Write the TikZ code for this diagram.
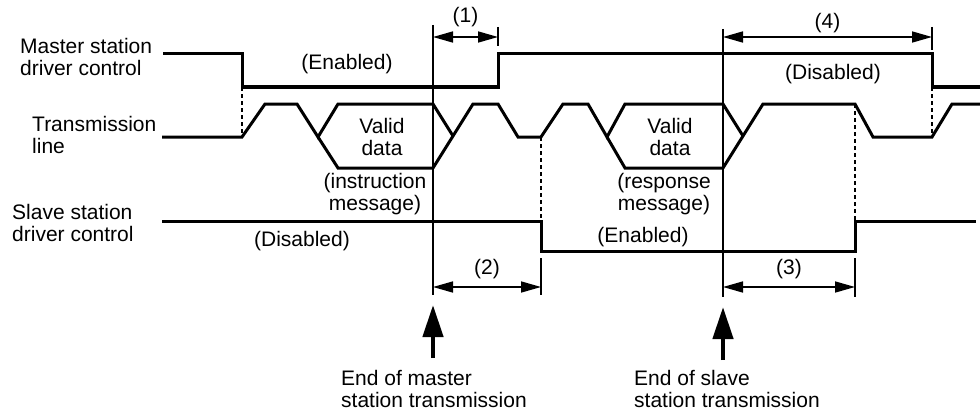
\documentclass[tikz,border=0pt]{standalone}
\usepackage{fontspec}
\setmainfont{Liberation Sans}
\usetikzlibrary{arrows.meta}

\begin{document}
\begin{tikzpicture}[x=1pt, y=-1pt,
    sig/.style={line width=3pt},
    guide/.style={line width=1.8pt},
    tickline/.style={line width=1.4pt},
    dotline/.style={line width=1.8pt, dash pattern=on 4pt off 3pt},
    dim/.style={line width=1.6pt, {Triangle[length=20pt,width=11pt]}-{Triangle[length=20pt,width=11pt]}},
    bigarrow/.style={line width=4.5pt, -{Triangle[length=32pt,width=20pt]}},
    lbl/.style={inner sep=0pt, font=\fontsize{21}{22.5}\selectfont},
    mid/.style={lbl, align=center},
    side/.style={lbl, align=left, anchor=west}
  ]
  \useasboundingbox (0,0) rectangle (980,412);

  % signal names
  \node[side] (master) at (20,57) {Master station\\driver control};
  \node[side] (line)   at (32,135) {Transmission\\line};
  \node[side] (slave)  at (12,223) {Slave station\\driver control};

  % time marks
  \coordinate (mTop) at (433,25);  \coordinate (mBot) at (433,295);
  \coordinate (sTop) at (723,29);  \coordinate (sBot) at (723,297);
  \coordinate (t1a) at (498,27);   \coordinate (t1b) at (498,46);
  \coordinate (t4a) at (932,27);   \coordinate (t4b) at (932,50);
  \coordinate (t2a) at (541,258);  \coordinate (t2b) at (541,295);
  \coordinate (t3a) at (855,258);  \coordinate (t3b) at (855,297);

  % master station driver
  \draw[sig] (163,54) -- (242,54) -- (242,87) -- (498,87) -- (498,54)
    -- (932,54) -- (932,87) -- (980,87);
  % transmission line
  \draw[sig] (162,137) -- (242,137) -- (265,104) -- (297,104) -- (318,137)
    -- (338,104) -- (433,104) -- (453,136);
  \draw[sig] (318,137) -- (338,168) -- (433,168) -- (473,104) -- (498,104)
    -- (518,137) -- (541,137) -- (563,104) -- (588,104) -- (607,137)
    -- (625,104) -- (723,104) -- (743,136);
  \draw[sig] (607,137) -- (625,168) -- (723,168) -- (763,104) -- (855,104)
    -- (873,137) -- (932,137) -- (952,104) -- (980,104);
  % slave station driver
  \draw[sig] (162,221) -- (541,221) -- (541,251) -- (855,251) -- (855,221)
    -- (976,221);

  \draw[dotline] (242,87) -- (242,137);
  \draw[dotline] (932,87) -- (932,137);
  \draw[dotline] (541,137) -- (541,221);
  \draw[dotline] (855,104) -- (855,221);

  \draw[guide] (mTop) -- (mBot);
  \draw[guide] (sTop) -- (sBot);
  \foreach \a/\b in {t1a/t1b, t4a/t4b, t2a/t2b, t3a/t3b}
    \draw[tickline] (\a) -- (\b);

  % intervals
  \draw[dim] (433,37) -- node[lbl, above=9pt] (d1) {(1)} (498,37);
  \draw[dim] (723,37) -- node[lbl, above=3pt] (d4) {(4)} (932,37);
  \draw[dim] (433,287) -- node[lbl, above=7pt] (d2) {(2)} (541,287);
  \draw[dim] (723,287) -- node[lbl, above=7pt] (d3) {(3)} (855,287);

  % states
  \node[lbl, anchor=base] (menab) at (347,70) {(Enabled)};
  \node[lbl, anchor=base] (mdis)  at (833,80) {(Disabled)};
  \node[lbl, anchor=base] (sdis)  at (302,246) {(Disabled)};
  \node[lbl, anchor=base] (senab) at (643,242) {(Enabled)};
  \node[mid] (valid1) at (382,137) {Valid\\data};
  \node[mid] (valid2) at (670,137) {Valid\\data};
  \node[mid] (instr) at (375,194) {(instruction\\message)};
  \node[mid] (resp)  at (664,194) {(response\\message)};

  % ends of transmission
  \node[side] (mendtxt) at (341,389) {End of master\\station transmission};
  \node[side] (sendtxt) at (634,389) {End of slave\\station transmission};
  \coordinate (mArr) at (433,358);
  \coordinate (sArr) at (723,360);
  \draw[bigarrow] (mArr) -- (433,305);
  \draw[bigarrow] (sArr) -- (723,307);
\end{tikzpicture}
\end{document}
